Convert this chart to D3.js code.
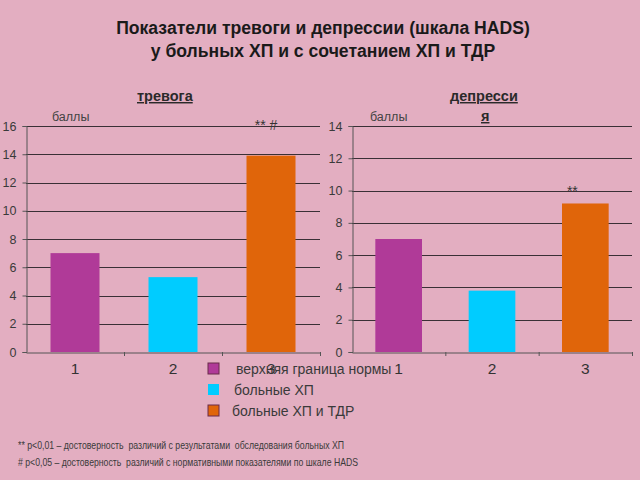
<!DOCTYPE html>
<html><head><meta charset="utf-8">
<script src="https://cdn.jsdelivr.net/npm/d3@7"></script>
<style>
html,body{margin:0;padding:0;background:#e3aec1;}
svg{display:block;font-family:"Liberation Sans",Arial,sans-serif;}
</style></head>
<body><svg id="c" width="640" height="480"></svg>
<script>
const categories = ["1","2","3"];
const seriesNames = ["верхняя граница нормы","больные ХП","больные ХП и ТДР"];
const anxietyValues = [7.0, 5.3, 13.9];
const depressionValues = [7.0, 3.8, 9.2];
const anxietyTicks = [0,2,4,6,8,10,12,14,16];
const depressionTicks = [0,2,4,6,8,10,12,14];
const anxietyMarks = ["","","** #"];
const depressionMarks = ["","","**"];
const colors = ["#b03a98","#00ccff","#e0650a"];

const svg = d3.select("#c");

// Title
svg.append("text").attr("x",323).attr("y",34).attr("text-anchor","middle")
  .attr("font-size",17.6).attr("font-weight","bold").attr("fill","#1a1a1a")
  .text("Показатели тревоги и депрессии (шкала HADS)");
svg.append("text").attr("x",323).attr("y",57).attr("text-anchor","middle")
  .attr("font-size",17.6).attr("font-weight","bold").attr("fill","#1a1a1a")
  .text("у больных ХП и с сочетанием ХП и ТДР");

function panel(cfg){
  const y = d3.scaleLinear().domain([0,cfg.max]).range([352,126]);
  const x = d3.scaleBand().domain(categories).range([cfg.x0,cfg.x1]).paddingInner(0.5).paddingOuter(0.25);
  const g = svg.append("g");
  // gridlines
  g.selectAll("line.grid").data(cfg.ticks.filter(t=>t>0)).join("line")
    .attr("x1",cfg.x0).attr("x2",cfg.x1)
    .attr("y1",d=>Math.round(y(d))+0.5).attr("y2",d=>Math.round(y(d))+0.5)
    .attr("stroke","#3a3036").attr("stroke-width",1);
  // bars
  g.selectAll("rect.bar").data(cfg.values).join("rect")
    .attr("x",(d,i)=>x(categories[i])).attr("width",x.bandwidth())
    .attr("y",d=>y(d)).attr("height",d=>y(0)-y(d))
    .attr("fill",(d,i)=>colors[i]);
  // y axis
  const ya = g.append("g").attr("transform",`translate(${cfg.x0+0.5},0)`)
    .call(d3.axisLeft(y).tickValues(cfg.ticks).tickSize(4).tickPadding(6));
  ya.select(".domain").attr("stroke","#555");
  ya.selectAll(".tick line").attr("stroke","#555");
  ya.selectAll(".tick text").attr("fill","#3a3a3a").attr("font-size",12.5)
    .attr("font-family","Liberation Sans, Arial, sans-serif");
  // x axis
  const xa = g.append("g").attr("transform",`translate(0,${y(0)+0.5})`)
    .call(d3.axisBottom(x).tickSize(0).tickPadding(10));
  xa.select(".domain").attr("stroke","#555");
  xa.selectAll(".tick text").attr("fill","#333").attr("font-size",15.5)
    .attr("font-family","Liberation Sans, Arial, sans-serif");
  // category boundary ticks
  const bw = (cfg.x1-cfg.x0)/categories.length;
  g.selectAll("line.sep").data([1,2,3]).join("line")
    .attr("x1",d=>cfg.x0+d*bw+0.5).attr("x2",d=>cfg.x0+d*bw+0.5)
    .attr("y1",y(0)).attr("y2",y(0)+4).attr("stroke","#555");
  // marks
  g.selectAll("text.mark").data(cfg.marks).join("text")
    .attr("x",(d,i)=>x(categories[i])+x.bandwidth()/2+cfg.markDx)
    .attr("y",(d,i)=>y(cfg.values[i])-cfg.markDy)
    .attr("text-anchor","middle").attr("font-size",14).attr("fill","#333")
    .text(d=>d);
  // units
  g.append("text").attr("x",cfg.unitX).attr("y",121).attr("font-size",12.5)
    .attr("fill","#444").text("баллы");
}

panel({x0:26,x1:320,max:16,ticks:anxietyTicks,values:anxietyValues,marks:anxietyMarks,markDx:-5,markDy:26,unitX:52});
panel({x0:352,x1:632,max:14,ticks:depressionTicks,values:depressionValues,marks:depressionMarks,markDx:-13,markDy:7,unitX:370});

// Panel titles (underlined bold)
function utitle(txt,x,y,fs){
  svg.append("text").attr("x",x).attr("y",y).attr("font-size",fs)
    .attr("font-weight","bold").attr("fill","#2a2a2a")
    .attr("text-decoration","underline").text(txt);
}
utitle("тревога",137,101,14.5);
utitle("депресси",450,101,14.5);
utitle("я",481,121,14.5);

// Legend
const leg = svg.append("g");
const legY = [369,390,411];
const legTX = [236,234,232];
seriesNames.forEach((n,i)=>{
  leg.append("rect").attr("x",208).attr("y",legY[i]-6).attr("width",11).attr("height",11)
    .attr("fill",colors[i]).attr("stroke",i===1?"none":"#6a2a4a").attr("stroke-width",1);
  leg.append("text").attr("x",legTX[i]).attr("y",legY[i]+5).attr("font-size",14)
    .attr("fill","#3a3a3a").text(n);
});

// Footnotes
const notes = ["** p<0,01 – достоверность  различий с результатами  обследования больных ХП",
               "# p<0,05 – достоверность  различий с нормативными показателями по шкале HADS"];
const noteW = [326,340];
notes.forEach((n,i)=>{
  svg.append("text").attr("x",18).attr("y",449+i*17).attr("font-size",10.5)
    .attr("fill","#3a3a3a").attr("textLength",noteW[i]).attr("lengthAdjust","spacingAndGlyphs")
    .attr("xml:space","preserve").style("white-space","pre").text(n);
});
</script></body></html>
